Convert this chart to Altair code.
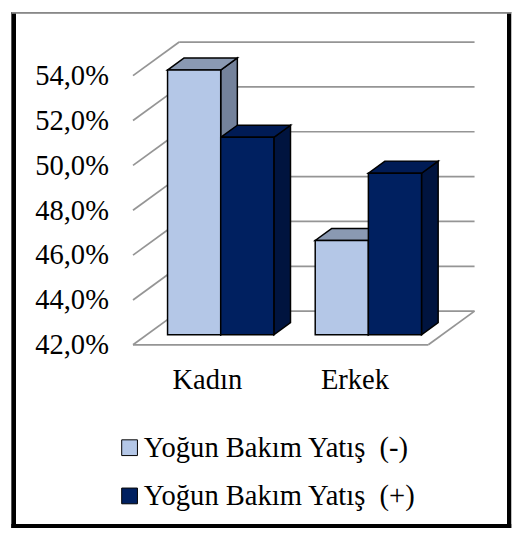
import json
import altair as alt
import pandas as pd

# ---- data ----
categories = ["Kadın", "Erkek"]
series_names = ["Yoğun Bakım Yatış\u00a0 (-)", "Yoğun Bakım Yatış\u00a0 (+)"]
values_minus = [53.8, 46.2]
values_plus = [50.8, 49.2]
y_ticks = [42, 44, 46, 48, 50, 52, 54]

# ---- styling / 3D geometry (not data) ----
front_colors = ["#B4C7E7", "#002060"]
top_colors = ["#8A99B2", "#001B55"]
side_colors = ["#74829B", "#00143F"]
FONT = "'Liberation Serif', 'Times New Roman', Times, 'DejaVu Serif', serif"
FS = 29
BAR_W = 0.36          # bar width in category units
DX, DY = 0.313, 1.5   # full wall depth (x units, percent units)
F1, F2 = 0.30, 0.66   # depth of bar front / back plane
Y0 = 42

bars, sides, tops = [], [], []
for ci, cat in enumerate(categories):
    for si, (sname, vals) in enumerate(zip(series_names, [values_minus, values_plus])):
        v = vals[ci]
        bid = f"{ci}-{si}"
        x0 = ci + (si - 1) * BAR_W + F1 * DX
        x1 = x0 + BAR_W
        y0 = Y0 + F1 * DY
        y1 = v + F1 * DY
        ddx, ddy = (F2 - F1) * DX, (F2 - F1) * DY
        bars.append(dict(bid=bid, series=sname, x=x0, x2=x1, y=y0, y2=y1, value=v))
        sides.append(dict(bid=bid, series=sname, x=x1, y=y1, y2=y0))
        sides.append(dict(bid=bid, series=sname, x=x1 + ddx, y=y1 + ddy, y2=y0 + ddy))
        tops.append(dict(bid=bid, series=sname, y=y1, x=x0, x2=x1))
        tops.append(dict(bid=bid, series=sname, y=y1 + ddy, x=x0 + ddx, x2=x1 + ddx))

xl, xr = -0.5, len(categories) - 0.5
grid = []
for t in y_ticks:
    grid.append(dict(x=xl + DX, x2=xr + DX, y=t + DY, y2=t + DY))   # back wall
    grid.append(dict(x=xl, x2=xl + DX, y=t, y2=t + DY))             # left wall
grid.append(dict(x=xl, x2=xr, y=Y0, y2=Y0))                         # floor front
grid.append(dict(x=xr, x2=xr + DX, y=Y0, y2=Y0 + DY))               # floor right

bars_df = pd.DataFrame(bars)
sides_df = pd.DataFrame(sides)
tops_df = pd.DataFrame(tops)
grid_df = pd.DataFrame(grid)

xscale = alt.Scale(domain=[-0.6, 1.9], nice=False, zero=False)
yscale = alt.Scale(domain=[42, 56], nice=False, zero=False)

cat_expr = json.dumps(categories, ensure_ascii=False) + "[round(datum.value)]"

x_axis = alt.Axis(values=list(range(len(categories))), labelExpr=cat_expr, title=None,
                  domain=False, ticks=False, grid=False, labelFont=FONT, labelFontSize=FS,
                  labelColor="black", labelBaseline="alphabetic", labelPadding=44)
y_axis = alt.Axis(values=y_ticks, labelExpr="replace(format(datum.value, '.1f'), '.', ',') + '%'",
                  title=None, domain=False, ticks=False, grid=False, labelFont=FONT,
                  labelFontSize=FS, labelColor="black", labelPadding=10)

X = lambda f: alt.X(f, scale=xscale, axis=x_axis)
Y = lambda f: alt.Y(f, scale=yscale, axis=y_axis)

gridlines = alt.Chart(grid_df).mark_rule(color="#959595", strokeWidth=1.75).encode(
    x=X("x:Q"), x2="x2:Q", y=Y("y:Q"), y2="y2:Q",
)

side_layer = alt.Chart(sides_df).mark_area(orient="vertical", stroke="black", strokeWidth=1.5,
                                           opacity=1, strokeJoin="miter").encode(
    x=X("x:Q"), y=Y("y:Q"), y2="y2:Q",
    detail="bid:N",
    color=alt.Color("series:N", scale=alt.Scale(domain=series_names, range=side_colors), legend=None),
)

top_layer = alt.Chart(tops_df).mark_area(orient="horizontal", stroke="black", strokeWidth=1.5,
                                         opacity=1, strokeJoin="miter").encode(
    y=Y("y:Q"), x=X("x:Q"), x2="x2:Q",
    detail="bid:N",
    color=alt.Color("series:N", scale=alt.Scale(domain=series_names, range=top_colors), legend=None),
)

front_layer = alt.Chart(bars_df).mark_rect(stroke="black", strokeWidth=1.5, opacity=1).encode(
    x=X("x:Q"), x2="x2:Q", y=Y("y:Q"), y2="y2:Q",
    color=alt.Color("series:N", scale=alt.Scale(domain=series_names, range=front_colors),
                    legend=alt.Legend(orient="none", legendX=-3, legendY=409, title=None,
                                      symbolType="square", symbolSize=256,
                                      symbolStrokeColor="black", symbolStrokeWidth=1,
                                      labelFont=FONT, labelFontSize=FS, labelColor="black",
                                      labelOffset=0, rowPadding=19, padding=0, labelLimit=500)),
)

# outer frame (decoration, pixel positions)
frame = [
    alt.Chart(grid_df).mark_rule(color="black", strokeWidth=4).encode(
        x=alt.value(-106), y=alt.value(-19), y2=alt.value(505)),
    alt.Chart(grid_df).mark_rule(color="black", strokeWidth=4).encode(
        x=alt.value(397), y=alt.value(-19), y2=alt.value(505)),
    alt.Chart(grid_df).mark_rule(color="black", strokeWidth=4).encode(
        x=alt.value(-108), x2=alt.value(399), y=alt.value(503)),
    alt.Chart(grid_df).mark_rule(color="#888888", strokeWidth=1).encode(
        x=alt.value(-108), x2=alt.value(399), y=alt.value(-18.5)),
]

chart = alt.layer(gridlines, side_layer, top_layer, front_layer, *frame).resolve_scale(
    color="independent"
).properties(
    width=375, height=319,
    autosize=alt.AutoSizeParams(type="none"),
    padding={"left": 112, "top": 19, "right": 25, "bottom": 187},
    background="white",
).configure(font=FONT).configure_view(stroke=None).configure_legend(
    labelFont=FONT, labelFontSize=FS, labelColor="black"
)

chart.save("out.html", embed_options={"renderer": "svg", "actions": False})
